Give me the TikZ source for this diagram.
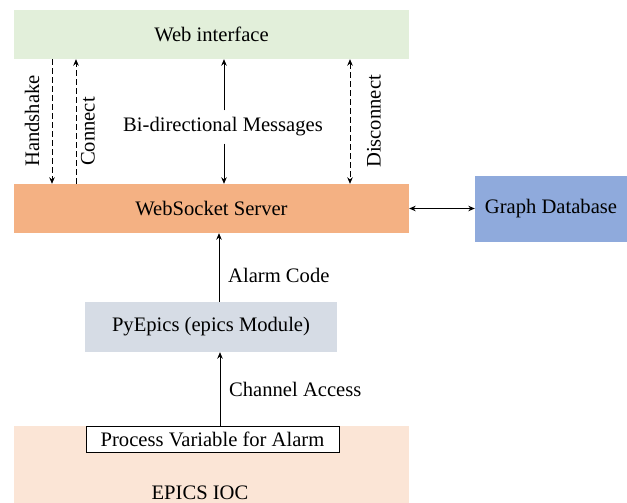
\documentclass[tikz,border=0pt]{standalone}
\usepackage{fontspec}
\setmainfont{Liberation Serif}
\usetikzlibrary{arrows.meta}
\definecolor{webgreen}{HTML}{E2EFDA}
\definecolor{wsorange}{HTML}{F4B183}
\definecolor{dbblue}{HTML}{8FAADC}
\definecolor{pygray}{HTML}{D6DCE5}
\definecolor{iocpeach}{HTML}{FBE5D6}
\tikzset{
  box/.style={draw=none, inner sep=0pt, font=\fontsize{20.6}{24}\selectfont},
  lbl/.style={inner sep=0pt, font=\fontsize{20.6}{24}\selectfont},
  sidelbl/.style={lbl, rotate=90, anchor=west},
  flow/.style={line width=0.9pt, -{Stealth[length=6.5pt,width=5.5pt]}},
  both/.style={line width=0.9pt, {Stealth[length=6.5pt,width=5.5pt]}-{Stealth[length=6.5pt,width=5.5pt]}},
  dashline/.style={dash pattern=on 5.5pt off 3.5pt}
}
\begin{document}
\begin{tikzpicture}[x=1pt,y=-1pt]
\useasboundingbox (0,0) rectangle (627,503);
% boxes
\node[box, fill=webgreen, minimum width=395pt, minimum height=49pt] (web) at (211.5,34.5) {Web interface};
\node[box, fill=wsorange, minimum width=395pt, minimum height=49pt] (ws) at (211.5,208.5) {WebSocket Server};
\node[box, fill=dbblue, minimum width=152pt, minimum height=66pt] (db) at (551,209) {Graph Database};
\node[box, fill=pygray, minimum width=252pt, minimum height=50pt] (py) at (211,327) {PyEpics (epics Module)};
\node[box, fill=iocpeach, minimum width=395pt, minimum height=77pt] (ioc) at (211.5,464.5) {};
\node[lbl] (ioclbl) at (200,493) {EPICS IOC};
\node[box, fill=white, draw=black, line width=0.9pt, minimum width=253pt, minimum height=26pt] (pv) at (212.5,439) {Process Variable for Alarm};
% web interface <-> websocket server
\draw[flow, dashline] (web.south -| 52,0) -- (ws.north -| 52,0);
\draw[flow, dashline] (ws.north -| 76,0) -- (web.south -| 76,0);
\draw[both, dashline] (web.south -| 350,0) -- (ws.north -| 350,0);
\node[sidelbl] (hs) at (32,167) {Handshake};
\node[sidelbl] (cn) at (88,166) {Connect};
\node[sidelbl] (dc) at (374,168) {Disconnect};
\node[lbl, inner ysep=7pt] (msg) at (223,127) {Bi-directional Messages};
\draw[flow] (msg.north -| 224,0) -- (web.south -| 224,0);
\draw[flow] (msg.south -| 224,0) -- (ws.north -| 224,0);
% server <-> database
\draw[both] (ws.east) -- (db.west |- ws.east);
% lower chain
\draw[flow] (py.north -| 219,0) -- (ws.south -| 219,0);
\node[lbl, anchor=west] (ac) at (228,275) {Alarm Code};
\draw[flow] (pv.north -| 220,0) -- (py.south -| 220,0);
\node[lbl, anchor=west] (ca) at (229,389) {Channel Access};
\end{tikzpicture}
\end{document}
